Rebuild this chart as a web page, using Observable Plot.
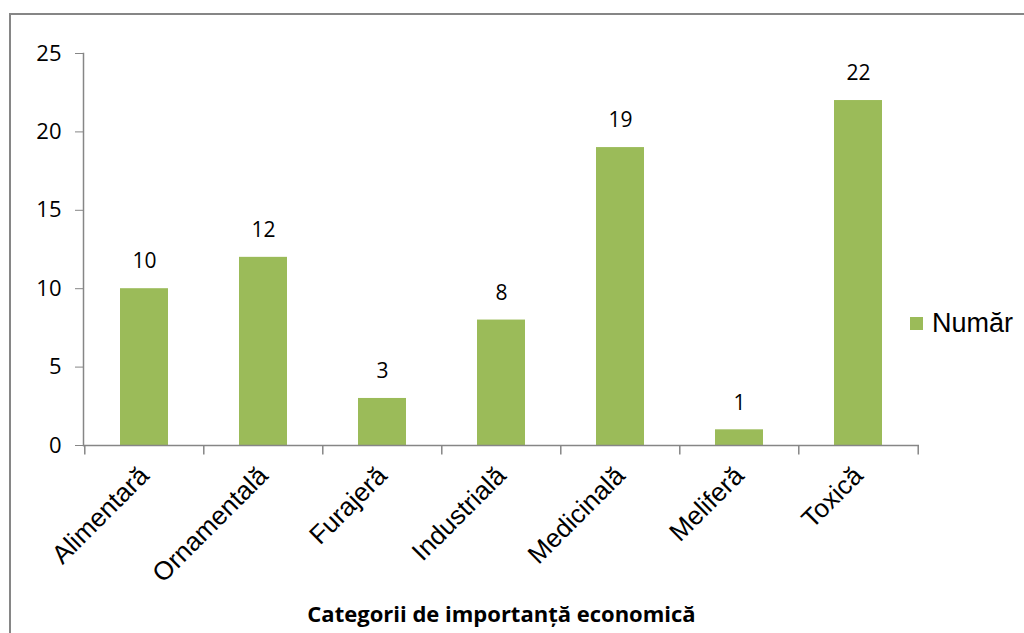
<!DOCTYPE html>
<html>
<head>
<meta charset="utf-8">
<script src="https://cdn.jsdelivr.net/npm/d3@7"></script>
<script src="https://cdn.jsdelivr.net/npm/@observablehq/plot@0.6"></script>
<style>
  html, body { margin: 0; padding: 0; background: #fff; width: 1024px; height: 633px; overflow: hidden; }
  #frame { position: absolute; left: 9px; top: 13px; width: 1030px; height: 640px; border: 2px solid #868686; box-sizing: border-box; }
  #chart { position: absolute; left: 0; top: 0; }
  #legend { position: absolute; left: 910px; top: 308px; font-family: "Liberation Sans", Arial, sans-serif; font-size: 27px; color: #000; display: flex; align-items: center; }
  #legend .sw { width: 13px; height: 13px; background: #9BBB59; margin-right: 9px; }
</style>
</head>
<body>
<div id="frame"></div>
<div id="chart"></div>
<div id="legend"><div class="sw"></div><span>Număr</span></div>
<script>
const categories = ["Alimentară", "Ornamentală", "Furajeră", "Industrială", "Medicinală", "Meliferă", "Toxică"];
const values = [10, 12, 3, 8, 19, 1, 22];
const yTicks = [0, 5, 10, 15, 20, 25];
const seriesName = "Număr";
const xTitle = "Categorii de importanță economică";

const data = categories.map((c, i) => ({category: c, value: values[i]}));

const W = 1024, H = 633, ML = 83, MR = 105, MT = 53, MB = 188;
const step = (W - ML - MR) / categories.length;

const chart = Plot.plot({
  width: W,
  height: H,
  marginLeft: ML,
  marginRight: MR,
  marginTop: MT,
  marginBottom: MB,
  style: {background: "transparent", overflow: "visible"},
  x: {domain: categories, paddingInner: 0.6, paddingOuter: 0.3},
  y: {domain: [0, 25]},
  marks: [
    Plot.barY(data, {x: "category", y: "value", fill: "#9BBB59"}),
    Plot.ruleY([0], {stroke: "#868686", strokeWidth: 1.5}),
    Plot.frame({anchor: "left", stroke: "#868686", strokeWidth: 1.5}),
    // boundary tick marks between categories
    Plot.ruleX(categories, {x: d => d, dx: -step / 2, y1: 0, y2: -0.6, stroke: "#868686", strokeWidth: 1.5}),
    Plot.ruleX(categories.slice(-1), {x: d => d, dx: step / 2, y1: 0, y2: -0.6, stroke: "#868686", strokeWidth: 1.5}),
    Plot.axisY({ticks: yTicks, tickSize: 8, tickPadding: 14, stroke: "#868686", fontSize: 22, fontFamily: "Open Sans", fill: "#000", label: null}),
    Plot.axisX({tickSize: 0, tickRotate: -45, tickPadding: 26, fontSize: 26, fontFamily: "Liberation Sans", fill: "#000", label: null}),
    Plot.text(data, {x: "category", y: "value", text: d => String(d.value), dy: -27, fontSize: 21, fontFamily: "Open Sans", fill: "#000"}),
    Plot.text([xTitle], {frameAnchor: "bottom", dy: 176, fontSize: 22, fontWeight: "bold", fontFamily: "Open Sans", fill: "#000"})
  ]
});
document.getElementById("chart").appendChild(chart);
</script>
</body>
</html>
